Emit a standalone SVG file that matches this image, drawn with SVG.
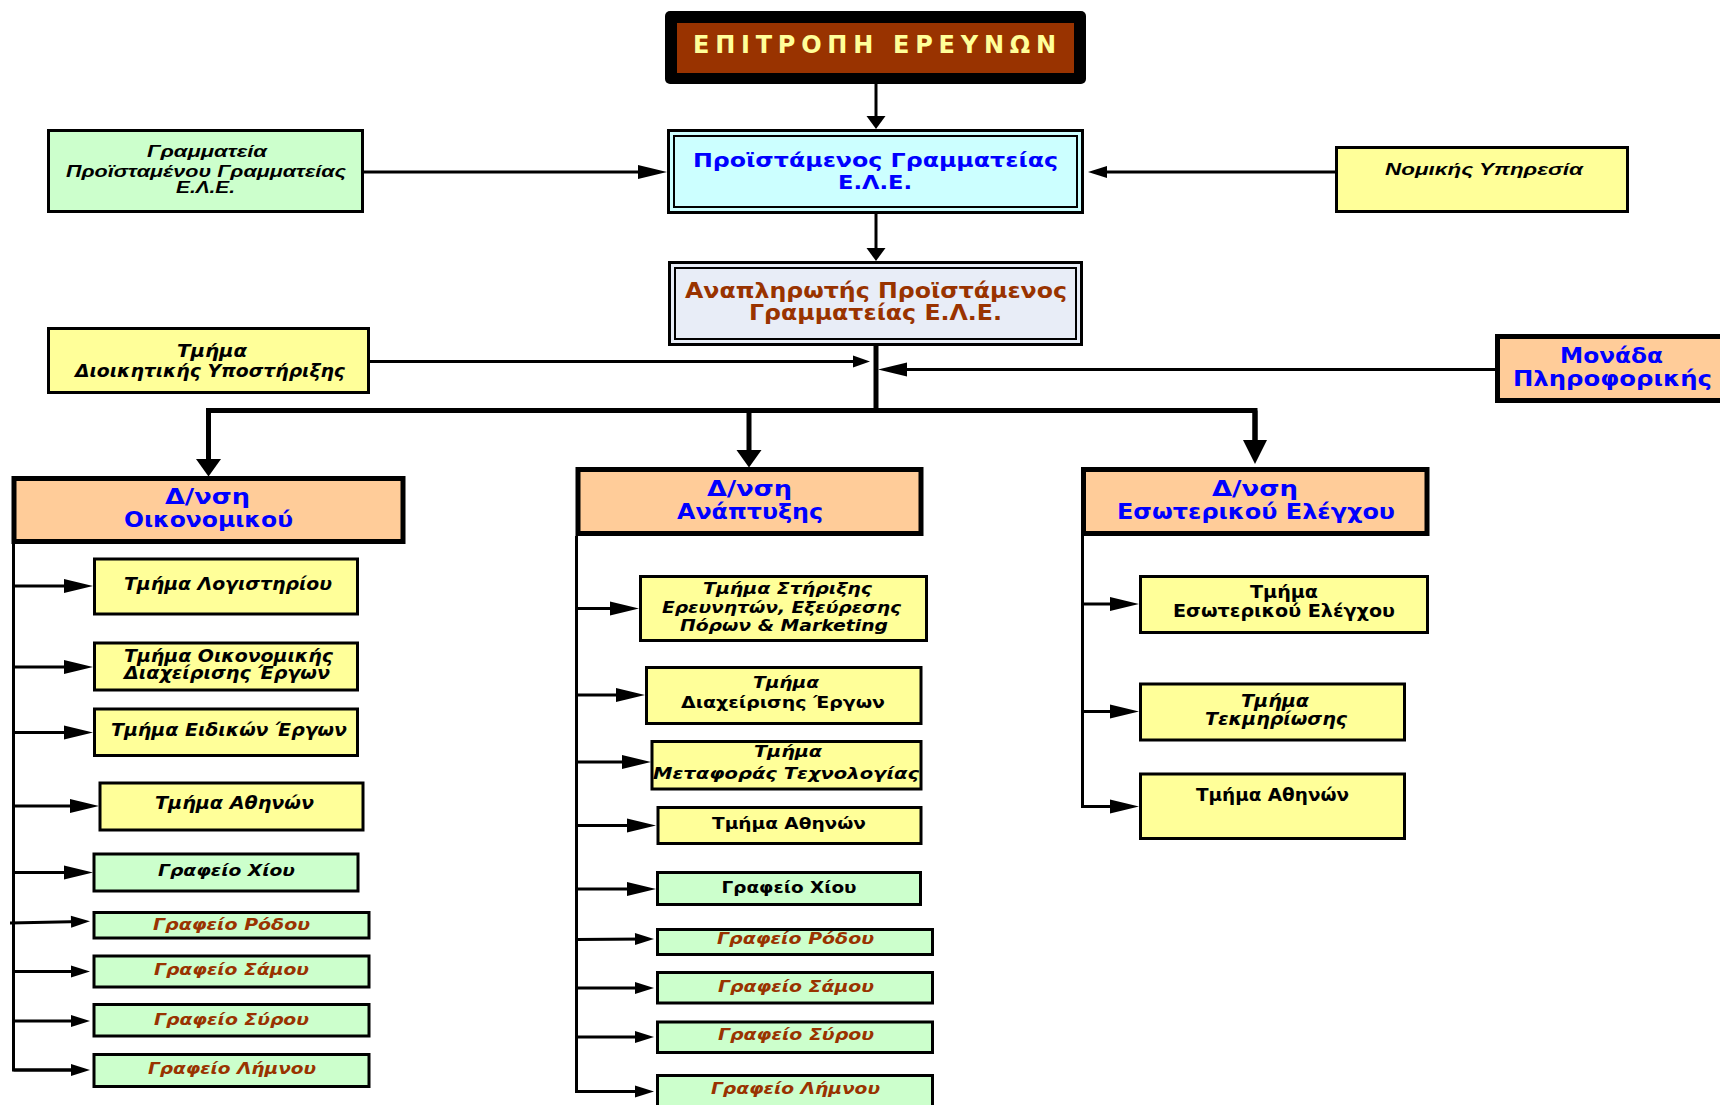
<svg xmlns="http://www.w3.org/2000/svg" width="1720" height="1105" viewBox="0 0 1720 1105">
<style>
.b3{stroke:#000;stroke-width:3}
.b2{stroke:#000;stroke-width:2;fill:none}
.b5{stroke:#000;stroke-width:5}
.yel{fill:#FFFF99}.grn{fill:#CCFFCC}.peach{fill:#FFCC99}
.t{font-family:"DejaVu Sans","Liberation Sans",sans-serif;font-weight:bold}
.ta{font-family:"Liberation Sans","DejaVu Sans",sans-serif;font-weight:bold}
.i{font-style:italic}
.blue{fill:#0000FF}.brown{fill:#993300}.blk{fill:#000}
.c3{stroke:#000;stroke-width:3;fill:none}
.c5{stroke:#000;stroke-width:5;fill:none;stroke-linejoin:miter}
</style>
<defs>
<marker id="aL" markerUnits="userSpaceOnUse" markerWidth="30" markerHeight="16" refX="21" refY="7" orient="auto" overflow="visible"><path d="M0,0 L29,7 L0,14 Z" fill="#000"/></marker>
<marker id="aS" markerUnits="userSpaceOnUse" markerWidth="20" markerHeight="14" refX="11" refY="6" orient="auto" overflow="visible"><path d="M0,0 L19,6 L0,12 Z" fill="#000"/></marker>
<marker id="aT" markerUnits="userSpaceOnUse" markerWidth="14" markerHeight="20" refX="7" refY="9.5" orient="auto" overflow="visible"><path d="M0,0 L13,9.5 L0,19 Z" fill="#000"/></marker>
<marker id="aM" markerUnits="userSpaceOnUse" markerWidth="18" markerHeight="14" refX="10" refY="6" orient="auto" overflow="visible"><path d="M0,0 L17,6 L0,12 Z" fill="#000"/></marker>
<marker id="aB" markerUnits="userSpaceOnUse" markerWidth="18" markerHeight="26" refX="8" refY="12.5" orient="auto" overflow="visible"><path d="M0,0 L17.5,12.5 L0,25 Z" fill="#000"/></marker>
<marker id="aX" markerUnits="userSpaceOnUse" markerWidth="25" markerHeight="26" refX="14" refY="12" orient="auto" overflow="visible"><path d="M0,0 L24,12 L0,24 Z" fill="#000"/></marker>
</defs>
<rect width="1720" height="1105" fill="#fff"/>

<g id="connectors">
<line class="c3" x1="876" y1="84" x2="876" y2="123" marker-end="url(#aT)"/>
<line class="c3" x1="876" y1="214" x2="876" y2="255" marker-end="url(#aT)"/>
<line class="c3" x1="364" y1="172" x2="659" y2="172" marker-end="url(#aL)"/>
<line class="c3" x1="1335" y1="172" x2="1096" y2="172" marker-end="url(#aS)"/>
<line class="c5" x1="876" y1="346" x2="876" y2="412"/>
<line class="c3" x1="370" y1="361.5" x2="863" y2="361.5" marker-end="url(#aM)"/>
<line class="c3" x1="1495" y1="369.5" x2="886" y2="369.5" marker-end="url(#aL)"/>
<path class="c5" d="M208.5,467 V410.5 H1255 V454"/>
<line class="c5" x1="208.5" y1="410.5" x2="208.5" y2="467" marker-end="url(#aB)"/>
<line class="c5" x1="749" y1="410.5" x2="749" y2="458" marker-end="url(#aB)"/>
<line class="c5" x1="1255" y1="410.5" x2="1255" y2="454" marker-end="url(#aX)"/>
<path class="c3" d="M13.5,544 V1070 H84"/>
<line class="c3" x1="13.5" y1="586" x2="85" y2="586" marker-end="url(#aL)"/>
<line class="c3" x1="13.5" y1="667" x2="85" y2="667" marker-end="url(#aL)"/>
<line class="c3" x1="13.5" y1="732.5" x2="85" y2="732.5" marker-end="url(#aL)"/>
<line class="c3" x1="13.5" y1="806" x2="91" y2="806" marker-end="url(#aL)"/>
<line class="c3" x1="13.5" y1="872.5" x2="85" y2="872.5" marker-end="url(#aL)"/>
<line class="c3" x1="10" y1="923" x2="82" y2="921.5" marker-end="url(#aS)"/>
<line class="c3" x1="13.5" y1="971.5" x2="82" y2="971.5" marker-end="url(#aS)"/>
<line class="c3" x1="13.5" y1="1021" x2="82" y2="1021" marker-end="url(#aS)"/>
<line class="c3" x1="13.5" y1="1070" x2="82" y2="1070" marker-end="url(#aS)"/>
<path class="c3" d="M576.5,536 V1091.5 H646"/>
<line class="c3" x1="576.5" y1="608.5" x2="631" y2="608.5" marker-end="url(#aL)"/>
<line class="c3" x1="576.5" y1="695" x2="637" y2="695" marker-end="url(#aL)"/>
<line class="c3" x1="576.5" y1="762" x2="643" y2="762" marker-end="url(#aL)"/>
<line class="c3" x1="576.5" y1="825.5" x2="648" y2="825.5" marker-end="url(#aL)"/>
<line class="c3" x1="576.5" y1="889" x2="648" y2="889" marker-end="url(#aL)"/>
<line class="c3" x1="576.5" y1="939.5" x2="646" y2="939" marker-end="url(#aS)"/>
<line class="c3" x1="576.5" y1="988" x2="646" y2="988" marker-end="url(#aS)"/>
<line class="c3" x1="576.5" y1="1037" x2="646" y2="1037" marker-end="url(#aS)"/>
<line class="c3" x1="576.5" y1="1091.5" x2="646" y2="1091.5" marker-end="url(#aS)"/>
<path class="c3" d="M1082.5,536 V806.5 H1131"/>
<line class="c3" x1="1082.5" y1="604" x2="1131" y2="604" marker-end="url(#aL)"/>
<line class="c3" x1="1082.5" y1="711.5" x2="1131" y2="711.5" marker-end="url(#aL)"/>
<line class="c3" x1="1082.5" y1="806.5" x2="1131" y2="806.5" marker-end="url(#aL)"/>
</g>

<g id="epitropi">
<rect x="665" y="11" width="421" height="73" rx="5" fill="#000"/>
<rect x="677" y="23" width="397" height="50" fill="#993300"/>
<text class="t" x="693" y="53" font-size="24" fill="#FFFF99" textLength="363" lengthAdjust="spacing">ΕΠΙΤΡΟΠΗ ΕΡΕΥΝΩΝ</text>
</g>

<g id="proistamenos">
<rect class="b3" x="668.5" y="130.5" width="414" height="82" fill="#CCFFFF"/>
<rect class="b2" x="674" y="136" width="403" height="71"/>
<text class="t blue" x="693" y="167" font-size="20" textLength="365" lengthAdjust="spacingAndGlyphs">Προϊστάμενος Γραμματείας</text>
<text class="t blue" x="838" y="189" font-size="20" textLength="74" lengthAdjust="spacingAndGlyphs">Ε.Λ.Ε.</text>
</g>

<g id="anaplirotis">
<rect class="b3" x="669.5" y="262.5" width="412" height="82" fill="#E8EDF7"/>
<rect class="b2" x="675" y="268" width="401" height="71"/>
<text class="t brown" x="685" y="298" font-size="21" textLength="382" lengthAdjust="spacingAndGlyphs">Αναπληρωτής Προϊστάμενος</text>
<text class="t brown" x="749" y="320" font-size="21" textLength="253" lengthAdjust="spacingAndGlyphs">Γραμματείας Ε.Λ.Ε.</text>
</g>

<g id="grammateia">
<rect class="b3 grn" x="48.5" y="130.5" width="314" height="81"/>
<text class="ta i blk" x="147" y="157" font-size="17" textLength="120" lengthAdjust="spacingAndGlyphs">Γραμματεία</text>
<text class="ta i blk" x="66" y="177" font-size="17" textLength="280" lengthAdjust="spacingAndGlyphs">Προϊσταμένου Γραμματείας</text>
<text class="ta i blk" x="176" y="193" font-size="17" textLength="59" lengthAdjust="spacingAndGlyphs">Ε.Λ.Ε.</text>
</g>

<g id="nomikis">
<rect class="b3 yel" x="1336.5" y="147.5" width="291" height="64"/>
<text class="ta i blk" x="1385" y="175" font-size="17" textLength="198" lengthAdjust="spacingAndGlyphs">Νομικής Υπηρεσία</text>
</g>

<g id="dioikitikis">
<rect class="b3 yel" x="48.5" y="328.5" width="320" height="64"/>
<text class="t i blk" x="177" y="357" font-size="17" textLength="70" lengthAdjust="spacingAndGlyphs">Τμήμα</text>
<text class="t i blk" x="75" y="377" font-size="17" textLength="270" lengthAdjust="spacingAndGlyphs">Διοικητικής Υποστήριξης</text>
</g>

<g id="monada">
<rect class="b5 peach" x="1497.5" y="336.5" width="240" height="64"/>
<text class="t blue" x="1560" y="363" font-size="21" textLength="103" lengthAdjust="spacingAndGlyphs">Μονάδα</text>
<text class="t blue" x="1513" y="386" font-size="21" textLength="199" lengthAdjust="spacingAndGlyphs">Πληροφορικής</text>
</g>

<g id="dnsi-oikonomikou">
<rect class="b5 peach" x="14" y="478.5" width="389" height="63"/>
<text class="t blue" x="165" y="504" font-size="22" textLength="85" lengthAdjust="spacingAndGlyphs">Δ/νση</text>
<text class="t blue" x="124" y="527" font-size="22" textLength="169" lengthAdjust="spacingAndGlyphs">Οικονομικού</text>
</g>

<g id="dnsi-anaptyxis">
<rect class="b5 peach" x="578" y="469.5" width="343" height="64"/>
<text class="t blue" x="707" y="495.5" font-size="22" textLength="85" lengthAdjust="spacingAndGlyphs">Δ/νση</text>
<text class="t blue" x="677" y="518.5" font-size="22" textLength="146" lengthAdjust="spacingAndGlyphs">Ανάπτυξης</text>
</g>

<g id="dnsi-esoterikou">
<rect class="b5 peach" x="1083.5" y="469.5" width="343.5" height="64"/>
<text class="t blue" x="1212" y="495.5" font-size="22" textLength="86" lengthAdjust="spacingAndGlyphs">Δ/νση</text>
<text class="t blue" x="1117" y="518.5" font-size="22" textLength="278" lengthAdjust="spacingAndGlyphs">Εσωτερικού Ελέγχου</text>
</g>

<g id="logistiriou">
<rect class="b3 yel" x="94.5" y="559" width="263" height="55"/>
<text class="t i blk" x="124" y="590" font-size="17" textLength="208" lengthAdjust="spacingAndGlyphs">Τμήμα Λογιστηρίου</text>
</g>
<g id="oikonomikis-diaxeirisis">
<rect class="b3 yel" x="94.5" y="643" width="263" height="47"/>
<text class="t i blk" x="124" y="661.5" font-size="17" textLength="209" lengthAdjust="spacingAndGlyphs">Τμήμα Οικονομικής</text>
<text class="t i blk" x="124" y="678.5" font-size="17" textLength="206" lengthAdjust="spacingAndGlyphs">Διαχείρισης Έργων</text>
</g>
<g id="eidikon-ergon">
<rect class="b3 yel" x="94.5" y="709" width="263" height="46.5"/>
<text class="t i blk" x="111" y="735.5" font-size="17" textLength="236" lengthAdjust="spacingAndGlyphs">Τμήμα Ειδικών Έργων</text>
</g>
<g id="athinon-1">
<rect class="b3 yel" x="100" y="783" width="263" height="47"/>
<text class="t i blk" x="155" y="809" font-size="17" textLength="159" lengthAdjust="spacingAndGlyphs">Τμήμα Αθηνών</text>
</g>
<g id="chiou-1">
<rect class="b3 grn" x="94" y="854" width="264" height="37"/>
<text class="t i blk" x="158" y="876" font-size="16" textLength="137" lengthAdjust="spacingAndGlyphs">Γραφείο Χίου</text>
</g>
<g id="rodou-1">
<rect class="b3 grn" x="94" y="912.5" width="275" height="25.5"/>
<text class="t i brown" x="153" y="929.5" font-size="16" textLength="157" lengthAdjust="spacingAndGlyphs">Γραφείο Ρόδου</text>
</g>
<g id="samou-1">
<rect class="b3 grn" x="94" y="956" width="275" height="31"/>
<text class="t i brown" x="154" y="975" font-size="16" textLength="155" lengthAdjust="spacingAndGlyphs">Γραφείο Σάμου</text>
</g>
<g id="syrou-1">
<rect class="b3 grn" x="94" y="1004.5" width="275" height="31.5"/>
<text class="t i brown" x="154" y="1025" font-size="16" textLength="155" lengthAdjust="spacingAndGlyphs">Γραφείο Σύρου</text>
</g>
<g id="limnou-1">
<rect class="b3 grn" x="94" y="1054.5" width="275" height="32"/>
<text class="t i brown" x="148" y="1073.5" font-size="16" textLength="168" lengthAdjust="spacingAndGlyphs">Γραφείο Λήμνου</text>
</g>

<g id="stirixis">
<rect class="b3 yel" x="640.5" y="576.5" width="286" height="64"/>
<text class="t i blk" x="703" y="593.5" font-size="16" textLength="169" lengthAdjust="spacingAndGlyphs">Τμήμα Στήριξης</text>
<text class="t i blk" x="662" y="612.5" font-size="16" textLength="239" lengthAdjust="spacingAndGlyphs">Ερευνητών, Εξεύρεσης</text>
<text class="t i blk" x="680" y="630.5" font-size="16" textLength="208" lengthAdjust="spacingAndGlyphs">Πόρων &amp; Marketing</text>
</g>
<g id="diaxeirisis-ergon">
<rect class="b3 yel" x="646.5" y="667.5" width="274.5" height="56"/>
<text class="t i blk" x="753" y="688" font-size="16" textLength="66" lengthAdjust="spacingAndGlyphs">Τμήμα</text>
<text class="t blk" x="681" y="708" font-size="16" textLength="204" lengthAdjust="spacingAndGlyphs">Διαχείρισης Έργων</text>
</g>
<g id="metaforas">
<rect class="b3 yel" x="652" y="741.5" width="269" height="47.5"/>
<text class="t i blk" x="754" y="756.5" font-size="16" textLength="68" lengthAdjust="spacingAndGlyphs">Τμήμα</text>
<text class="t i blk" x="653" y="778.5" font-size="16" textLength="266" lengthAdjust="spacingAndGlyphs">Μεταφοράς Τεχνολογίας</text>
</g>
<g id="athinon-2">
<rect class="b3 yel" x="658" y="807.5" width="263" height="36"/>
<text class="t blk" x="712" y="828.5" font-size="16" textLength="154" lengthAdjust="spacingAndGlyphs">Τμήμα Αθηνών</text>
</g>
<g id="chiou-2">
<rect class="b3 grn" x="657.5" y="872.5" width="263" height="32"/>
<text class="t blk" x="721.5" y="892.5" font-size="16" textLength="135" lengthAdjust="spacingAndGlyphs">Γραφείο Χίου</text>
</g>
<g id="rodou-2">
<rect class="b3 grn" x="657.5" y="929.5" width="275" height="25"/>
<text class="t i brown" x="717" y="944" font-size="16" textLength="157" lengthAdjust="spacingAndGlyphs">Γραφείο Ρόδου</text>
</g>
<g id="samou-2">
<rect class="b3 grn" x="657.5" y="972.5" width="275" height="30.5"/>
<text class="t i brown" x="718" y="991.5" font-size="16" textLength="156" lengthAdjust="spacingAndGlyphs">Γραφείο Σάμου</text>
</g>
<g id="syrou-2">
<rect class="b3 grn" x="657.5" y="1022" width="275" height="30.5"/>
<text class="t i brown" x="718" y="1040" font-size="16" textLength="156" lengthAdjust="spacingAndGlyphs">Γραφείο Σύρου</text>
</g>
<g id="limnou-2">
<rect class="b3 grn" x="657.5" y="1075.5" width="275" height="36"/>
<text class="t i brown" x="711" y="1093.5" font-size="16" textLength="169" lengthAdjust="spacingAndGlyphs">Γραφείο Λήμνου</text>
</g>

<g id="esoterikou-elegxou">
<rect class="b3 yel" x="1140.5" y="576.5" width="287" height="56"/>
<text class="t blk" x="1250" y="598" font-size="17" textLength="68" lengthAdjust="spacingAndGlyphs">Τμήμα</text>
<text class="t blk" x="1173" y="616.5" font-size="17" textLength="222" lengthAdjust="spacingAndGlyphs">Εσωτερικού Ελέγχου</text>
</g>
<g id="tekmiriosis">
<rect class="b3 yel" x="1140.5" y="684" width="264" height="56"/>
<text class="t i blk" x="1241" y="706.5" font-size="17" textLength="68" lengthAdjust="spacingAndGlyphs">Τμήμα</text>
<text class="t i blk" x="1205" y="725" font-size="17" textLength="142" lengthAdjust="spacingAndGlyphs">Τεκμηρίωσης</text>
</g>
<g id="athinon-3">
<rect class="b3 yel" x="1140.5" y="774" width="264" height="64.5"/>
<text class="t blk" x="1196" y="800.5" font-size="17" textLength="153" lengthAdjust="spacingAndGlyphs">Τμήμα Αθηνών</text>
</g>
</svg>
